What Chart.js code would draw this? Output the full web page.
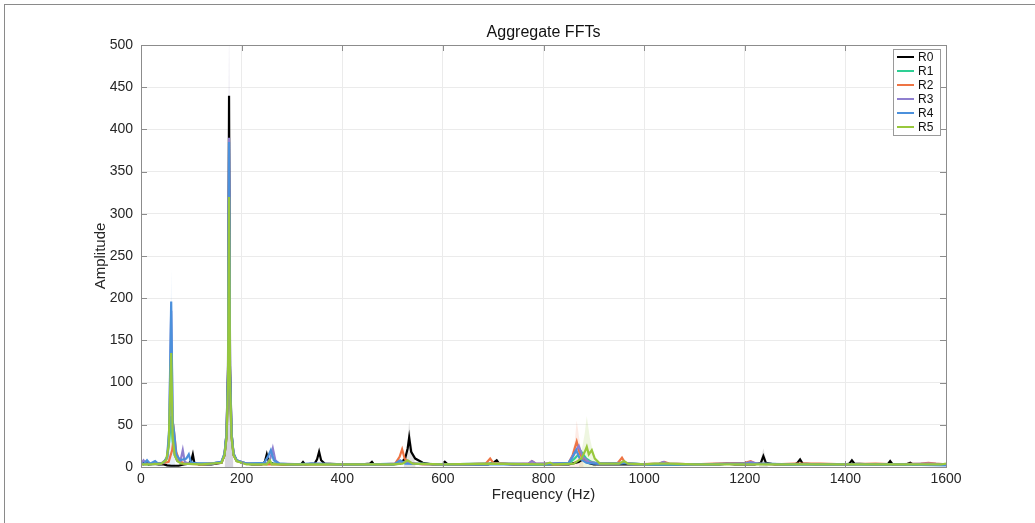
<!DOCTYPE html>
<html>
<head>
<meta charset="utf-8">
<title>Aggregate FFTs</title>
<script src="https://cdn.jsdelivr.net/npm/chart.js@4.4.0/dist/chart.umd.min.js"></script>
<style>
  html, body { margin: 0; padding: 0; background: #fff; }
  #wrap { position: relative; width: 1035px; height: 523px; overflow: hidden; }
  #frame { position: absolute; left: 4px; top: 4px; right: 0; bottom: 0; border-top: 1px solid #8a8a8a; border-left: 1px solid #8a8a8a; }
  #fft { position: absolute; left: 0; top: 0; }
</style>
</head>
<body>
<div id="wrap">
  <div id="frame"></div>
  <canvas id="fft" width="1035" height="523"></canvas>
</div>
<script>
// тики осей
const xTicks = [0, 200, 400, 600, 800, 1000, 1200, 1400, 1600];
const yTicks = [0, 50, 100, 150, 200, 250, 300, 350, 400, 450, 500];

const seriesNames = ['R0', 'R1', 'R2', 'R3', 'R4', 'R5'];
const seriesColors = ['#000000', '#2ecf94', '#ee7444', '#8f7fcf', '#4b90dc', '#98c83c'];

// [частота Hz, амплитуда]
const r0 = [[0,3],[8,6],[15,3],[25,4],[35,3],[45,3],[52,2],[60,1.5],[75,1.5],[85,3],[95,4],[100,8],[103,15],[106,5],[115,3],[140,3],[160,5],[166,14],[170,40],[173,120],[175,440],[177,120],[180,40],[184,15],[190,8],[200,5],[220,3],[240,3],[246,6],[250,15],[254,6],[262,4],[280,3],[300,3],[318,3],[322,6],[326,3],[345,4],[350,9],[354,18],[358,8],[365,4],[400,3],[440,3],[455,4],[459,6],[463,3],[500,3],[515,4],[525,10],[530,22],[533,35],[537,18],[545,10],[560,5],[580,3],[600,3],[604,6],[610,3],[640,3],[690,3],[700,5],[707,8],[712,4],[740,3],[800,3],[850,3],[870,6],[880,10],[888,5],[900,3],[950,3],[1000,3],[1050,3],[1100,3],[1150,3],[1165,4],[1180,3],[1220,3],[1232,5],[1237,13],[1242,5],[1260,3],[1300,3],[1305,5],[1310,9],[1315,4],[1340,3],[1400,3],[1408,4],[1413,8],[1418,4],[1450,3],[1484,3],[1489,7],[1494,3],[1520,3],[1529,5],[1534,3],[1560,3],[1600,3]];
const r1 = [[0,4],[10,3],[30,4],[45,5],[52,12],[56,30],[60,60],[63,30],[67,14],[72,8],[80,5],[100,4],[140,4],[160,6],[166,15],[170,35],[173,90],[175,250],[177,90],[180,35],[184,14],[190,7],[210,4],[260,4],[300,3],[400,3],[500,3],[520,5],[530,6],[540,4],[600,3],[700,4],[800,3],[850,4],[862,10],[875,18],[885,10],[895,6],[910,4],[960,5],[1000,3],[1100,3],[1200,4],[1300,3],[1400,3],[1500,3],[1600,3]];
const r2 = [[0,3],[20,4],[40,4],[55,6],[62,20],[66,40],[70,18],[76,8],[85,4],[120,3],[160,5],[166,14],[170,35],[173,90],[175,280],[177,90],[180,35],[184,14],[190,7],[210,4],[250,3],[300,3],[400,3],[480,3],[505,4],[514,12],[519,21],[524,10],[532,5],[560,3],[640,3],[685,4],[694,10],[700,5],[740,3],[770,4],[777,7],[785,4],[830,3],[850,5],[858,14],[866,30],[872,16],[880,8],[895,5],[920,4],[948,5],[956,11],[962,5],[980,3],[1030,4],[1040,6],[1050,4],[1100,3],[1140,4],[1200,5],[1212,7],[1222,4],[1260,3],[1300,4],[1350,4],[1400,3],[1460,4],[1500,3],[1550,4],[1565,5],[1580,4],[1600,3]];
const r3 = [[0,4],[5,8],[10,4],[20,3],[40,4],[52,10],[56,40],[60,185],[63,45],[67,15],[72,7],[78,6],[83,20],[87,6],[95,4],[140,4],[160,6],[166,16],[170,40],[173,110],[175,390],[177,110],[180,40],[184,16],[190,8],[210,4],[250,4],[257,10],[262,22],[267,8],[275,4],[320,3],[340,4],[400,3],[500,3],[520,6],[540,4],[600,3],[700,4],[770,4],[777,7],[785,4],[850,5],[860,15],[870,25],[878,12],[890,6],[910,4],[960,5],[1000,3],[1030,4],[1038,6],[1046,4],[1100,3],[1200,4],[1212,6],[1225,4],[1300,3],[1400,3],[1500,3],[1565,4],[1600,3]];
const r4 = [[0,5],[5,3],[12,8],[18,4],[28,7],[34,4],[45,5],[52,12],[56,45],[60,196],[63,55],[66,40],[70,15],[78,8],[90,10],[95,15],[99,6],[110,4],[140,4],[160,6],[166,16],[170,40],[173,110],[175,385],[177,110],[180,40],[184,16],[190,8],[210,4],[245,5],[252,12],[258,20],[264,8],[275,4],[300,3],[340,4],[400,3],[460,3],[505,4],[515,8],[525,4],[600,3],[700,3],[800,3],[850,5],[858,12],[865,20],[872,10],[885,5],[900,4],[950,4],[962,5],[975,3],[1000,3],[1100,3],[1200,4],[1300,3],[1400,3],[1500,3],[1600,2]];
const r5 = [[0,3],[20,3],[40,4],[50,8],[55,25],[60,135],[63,35],[67,14],[72,7],[80,4],[120,3],[160,5],[166,14],[170,35],[173,100],[175,320],[177,100],[180,35],[184,14],[190,7],[210,3],[250,3],[256,8],[260,3],[300,3],[400,3],[500,3],[520,4],[530,8],[540,4],[600,3],[700,4],[800,3],[813,5],[820,3],[860,4],[875,10],[882,18],[886,24],[890,15],[896,20],[902,10],[912,4],[950,4],[960,7],[968,4],[1000,3],[1020,4],[1050,4],[1100,3],[1200,3],[1250,3],[1300,3],[1400,3],[1500,3],[1590,3],[1600,4]];
const seriesData = [r0, r1, r2, r3, r4, r5];

// разброс (полупрозрачные полосы)
const r0Band = [[166,0],[171,60],[174,320],[175,530],[176,320],[179,60],[184,0]];
const r3Band = [[167,0],[172,150],[175,530],[178,150],[183,0]];
const r4Band = [[52,0],[57,60],[60,235],[63,60],[68,0]];
const r0Band2 = [[522,0],[530,30],[533,55],[537,30],[546,0]];
const r2Band = [[850,0],[862,30],[866,55],[872,30],[880,0]];
const r5Band = [[870,0],[882,40],[886,60],[892,35],[905,0]];
const r0Band3 = [[1228,0],[1237,22],[1246,0]];
const bands = [
  [r0Band, 'rgba(0,0,0,0.10)'],
  [r3Band, 'rgba(140,120,210,0.14)'],
  [r4Band, 'rgba(70,140,220,0.14)'],
  [r0Band2, 'rgba(0,0,0,0.12)'],
  [r2Band, 'rgba(238,116,68,0.14)'],
  [r5Band, 'rgba(152,200,60,0.16)'],
  [r0Band3, 'rgba(0,0,0,0.12)']
];

function toPoints(arr) {
  return arr.map(p => ({ x: p[0], y: p[1] }));
}

let datasets = [];
for (let i = 0; i < bands.length; i++) {
  datasets.push({
    label: 'band' + i,
    data: toPoints(bands[i][0]),
    borderWidth: 0,
    pointRadius: 0,
    fill: 'origin',
    backgroundColor: bands[i][1],
    order: 10,
    isBand: true
  });
}
for (let i = 0; i < seriesNames.length; i++) {
  datasets.push({
    label: seriesNames[i],
    data: toPoints(seriesData[i]),
    borderColor: seriesColors[i],
    borderWidth: 2.2,
    pointRadius: 0,
    fill: false,
    tension: 0,
    order: 6 - i
  });
}

const FONT = "'Liberation Sans', Arial, Helvetica, sans-serif";
Chart.defaults.font.family = FONT;

// рамка, засечки, подписи, легенда
const decor = {
  id: 'decor',
  afterDatasetsDraw(chart) {
    const ctx = chart.ctx;
    const a = chart.chartArea;
    const xs = chart.scales.x, ys = chart.scales.y;
    ctx.save();
    ctx.strokeStyle = '#8c8c8c';
    ctx.lineWidth = 1;
    ctx.beginPath();
    xTicks.forEach(t => {
      const px = Math.round(xs.getPixelForValue(t)) + 0.5;
      ctx.moveTo(px, a.bottom); ctx.lineTo(px, a.bottom - 6);
      ctx.moveTo(px, a.top); ctx.lineTo(px, a.top + 6);
    });
    yTicks.forEach(t => {
      const py = Math.round(ys.getPixelForValue(t)) + 0.5;
      ctx.moveTo(a.left, py); ctx.lineTo(a.left + 6, py);
      ctx.moveTo(a.right, py); ctx.lineTo(a.right - 6, py);
    });
    ctx.stroke();
    ctx.strokeRect(Math.round(a.left) + 0.5, Math.round(a.top) + 0.5, Math.round(a.right - a.left), Math.round(a.bottom - a.top));

    // заголовок и подписи осей
    ctx.fillStyle = '#111';
    ctx.textAlign = 'center';
    ctx.textBaseline = 'middle';
    ctx.font = '16px ' + FONT;
    ctx.fillText('Aggregate FFTs', (a.left + a.right) / 2, 33);
    ctx.font = '15px ' + FONT;
    ctx.fillStyle = '#262626';
    ctx.fillText('Frequency (Hz)', (a.left + a.right) / 2, 495);
    ctx.save();
    ctx.translate(101, (a.top + a.bottom) / 2);
    ctx.rotate(-Math.PI / 2);
    ctx.fillText('Amplitude', 0, 0);
    ctx.restore();

    // легенда
    const lx = 893, ly = 49, lw = 47, rowH = 14;
    const lh = rowH * seriesNames.length + 2;
    ctx.fillStyle = '#fff';
    ctx.fillRect(lx, ly, lw, lh);
    ctx.strokeStyle = '#9a9a9a';
    ctx.strokeRect(lx + 0.5, ly + 0.5, lw, lh);
    ctx.font = '12px ' + FONT;
    ctx.textAlign = 'left';
    chart.data.datasets.filter(d => !d.isBand).forEach((d, i) => {
      const y = ly + 8 + i * rowH;
      ctx.strokeStyle = d.borderColor;
      ctx.lineWidth = 2;
      ctx.beginPath();
      ctx.moveTo(lx + 4, y); ctx.lineTo(lx + 21, y);
      ctx.stroke();
      ctx.fillStyle = '#111';
      ctx.fillText(d.label, lx + 25, y + 1);
    });
    ctx.restore();
  }
};

new Chart(document.getElementById('fft').getContext('2d'), {
  type: 'line',
  data: { datasets: datasets },
  options: {
    responsive: false,
    animation: false,
    events: [],
    layout: { padding: { top: 45, right: 89, left: 0, bottom: 0 } },
    plugins: { legend: { display: false }, tooltip: { enabled: false }, title: { display: false } },
    scales: {
      x: {
        type: 'linear',
        min: 0, max: 1600,
        afterBuildTicks: s => { s.ticks = xTicks.map(v => ({ value: v })); },
        afterFit: s => { s.height = 56; },
        ticks: { color: '#262626', font: { size: 14 }, padding: 4, maxRotation: 0, callback: v => String(v) },
        grid: { color: '#ebebeb', drawTicks: false },
        border: { display: false }
      },
      y: {
        min: 0, max: 500,
        afterBuildTicks: s => { s.ticks = yTicks.map(v => ({ value: v })); },
        afterFit: s => { s.width = 141; },
        ticks: { color: '#262626', font: { size: 14 }, padding: 8, callback: v => String(v) },
        grid: { color: '#ebebeb', drawTicks: false },
        border: { display: false }
      }
    }
  },
  plugins: [decor]
});
</script>
</body>
</html>
